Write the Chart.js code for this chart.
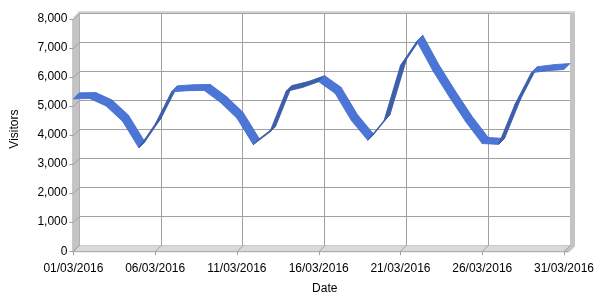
<!DOCTYPE html>
<html>
<head>
<meta charset="utf-8">
<script src="https://cdn.jsdelivr.net/npm/chart.js@4.4.1/dist/chart.umd.min.js"></script>
<style>
  html, body { margin: 0; padding: 0; background: #fff; }
  #wrap { width: 600px; height: 300px; }
</style>
</head>
<body>
<div id="wrap"><canvas id="visitsChart"></canvas></div>
<script>
// Daily visitors, March 2016
const days = [
    '01/03/2016', '02/03/2016', '03/03/2016', '04/03/2016', '05/03/2016',
    '06/03/2016', '07/03/2016', '08/03/2016', '09/03/2016', '10/03/2016',
    '11/03/2016', '12/03/2016', '13/03/2016', '14/03/2016', '15/03/2016',
    '16/03/2016', '17/03/2016', '18/03/2016', '19/03/2016', '20/03/2016',
    '21/03/2016', '22/03/2016', '23/03/2016', '24/03/2016', '25/03/2016',
    '26/03/2016', '27/03/2016', '28/03/2016', '29/03/2016', '30/03/2016',
    '31/03/2016'
];
const visitors = [
    5250, 5260, 5000, 4480, 3560,
    4380, 5490, 5530, 5540, 5120,
    4580, 3670, 4100, 5500, 5640,
    5840, 5440, 4500, 3820, 4510,
    6400, 7230, 6200, 5300, 4450,
    3710, 3680, 5060, 6150, 6220,
    6260
];
const yMin = 0;
const yMax = 8000;
const yStep = 1000;
const labelEvery = 5;

// depth of the fake 3D box, in pixels
const DX = -6, DY = 6;

// walls, floor and front ticks of the 3D frame
const frame3d = {
    id: 'frame3d',
    beforeDatasetsDraw(chart) {
        const { ctx, chartArea: a, scales } = chart;
        ctx.save();
        // left wall
        ctx.fillStyle = '#c4c4c4';
        ctx.beginPath();
        ctx.moveTo(a.left, a.top - 1);
        ctx.lineTo(a.left + DX, a.top - 1 + DY);
        ctx.lineTo(a.left + DX, a.bottom + DY);
        ctx.lineTo(a.left, a.bottom);
        ctx.closePath();
        ctx.fill();
        // floor
        ctx.fillStyle = '#d9d9d9';
        ctx.beginPath();
        ctx.moveTo(a.left, a.bottom);
        ctx.lineTo(a.right + 4, a.bottom);
        ctx.lineTo(a.right + 4 + DX, a.bottom + DY);
        ctx.lineTo(a.left + DX, a.bottom + DY);
        ctx.closePath();
        ctx.fill();
        // right wall edge
        ctx.fillStyle = '#c4c4c4';
        ctx.beginPath();
        ctx.moveTo(a.right, a.top - 2);
        ctx.lineTo(a.right + 5, a.top - 2);
        ctx.lineTo(a.right + 5, a.bottom + 1);
        ctx.lineTo(a.right + 5 + DX, a.bottom + DY + 1);
        ctx.lineTo(a.right + DX, a.bottom + DY + 1);
        ctx.lineTo(a.right, a.bottom);
        ctx.closePath();
        ctx.fill();
        // top rim
        ctx.fillStyle = '#d6d6d6';
        ctx.fillRect(a.left - 1, a.top - 2, a.right - a.left + 6, 2);
        ctx.beginPath();
        ctx.moveTo(a.left, a.top - 2);
        ctx.lineTo(a.left + DX, a.top - 2 + DY);
        ctx.lineTo(a.left + DX + 2, a.top - 2 + DY);
        ctx.lineTo(a.left, a.top);
        ctx.closePath();
        ctx.fill();

        ctx.strokeStyle = '#a0a0a0';
        ctx.lineWidth = 1;
        // front edges
        ctx.beginPath();
        ctx.moveTo(a.left + DX - 0.5, a.top + DY);
        ctx.lineTo(a.left + DX - 0.5, a.bottom + DY + 0.5);
        ctx.lineTo(a.right + DX + 4, a.bottom + DY + 0.5);
        ctx.stroke();
        // y ticks across the left wall and out the front
        const y = scales.y;
        y.ticks.forEach(t => {
            const py = Math.round(y.getPixelForValue(t.value)) + 0.5;
            ctx.beginPath();
            ctx.moveTo(a.left, py);
            ctx.lineTo(a.left + DX, py + DY);
            ctx.lineTo(a.left + DX - 4, py + DY);
            ctx.stroke();
        });
        // x ticks across the floor and down
        const x = scales.x;
        days.forEach((d, i) => {
            if (i % labelEvery) return;
            const px = Math.round(x.getPixelForValue(i)) + 0.5;
            ctx.beginPath();
            ctx.moveTo(px, a.bottom);
            ctx.lineTo(px + DX, a.bottom + DY);
            ctx.lineTo(px + DX, a.bottom + DY + 4);
            ctx.stroke();
        });
        ctx.restore();
    },
    afterDatasetsDraw(chart) {
        // the series as a flat ribbon with depth
        const { ctx } = chart;
        const pts = chart.getDatasetMeta(0).data;
        ctx.save();
        ctx.lineJoin = 'round';
        for (let i = 0; i < pts.length - 1; i++) {
            const b0 = pts[i], b1 = pts[i + 1];
            const rising = b1.y < b0.y - 4;
            ctx.fillStyle = rising ? '#3c5fae' : '#4b75d6';
            ctx.strokeStyle = rising ? '#34559e' : '#4169c6';
            ctx.lineWidth = 0.8;
            ctx.beginPath();
            ctx.moveTo(b0.x, b0.y);
            ctx.lineTo(b1.x, b1.y);
            ctx.lineTo(b1.x + DX, b1.y + DY);
            ctx.lineTo(b0.x + DX, b0.y + DY);
            ctx.closePath();
            ctx.fill();
            ctx.stroke();
        }
        ctx.restore();
    }
};

Chart.defaults.font.family = '"Liberation Sans", Arial, sans-serif';
Chart.defaults.font.size = 12;
Chart.defaults.color = '#000';

new Chart(document.getElementById('visitsChart').getContext('2d'), {
    type: 'line',
    data: {
        labels: days,
        datasets: [{
            label: 'Visitors',
            data: visitors,
            borderColor: 'transparent',
            borderWidth: 0,
            pointRadius: 0,
            tension: 0
        }]
    },
    options: {
        responsive: true,
        maintainAspectRatio: false,
        animation: false,
        events: [],
        layout: { padding: { left: 7, right: 0, top: 0, bottom: 2 } },
        plugins: {
            legend: { display: false },
            tooltip: { enabled: false }
        },
        scales: {
            x: {
                offset: false,
                grid: {
                    drawTicks: false,
                    color: c => (c.index % labelEvery === 0 ? '#a0a0a0' : 'transparent')
                },
                border: { display: false },
                ticks: {
                    autoSkip: false,
                    maxRotation: 0,
                    padding: 16,
                    labelOffset: DX,
                    callback: (v, i) => (i % labelEvery === 0 ? days[i] : '')
                },
                afterFit: s => { s.paddingRight = 30; },
                title: { display: true, text: 'Date', padding: { top: -10, bottom: 2 } }
            },
            y: {
                min: yMin,
                max: yMax,
                grid: { drawTicks: false, color: '#a0a0a0' },
                border: { display: false },
                ticks: {
                    stepSize: yStep,
                    padding: 12,
                    labelOffset: DY,
                    callback: v => v.toLocaleString('en-US')
                },
                afterFit: s => { s.paddingTop = 13; },
                title: { display: true, text: 'Visitors', padding: { top: 0, bottom: 4 } }
            }
        }
    },
    plugins: [frame3d]
});
</script>
</body>
</html>
